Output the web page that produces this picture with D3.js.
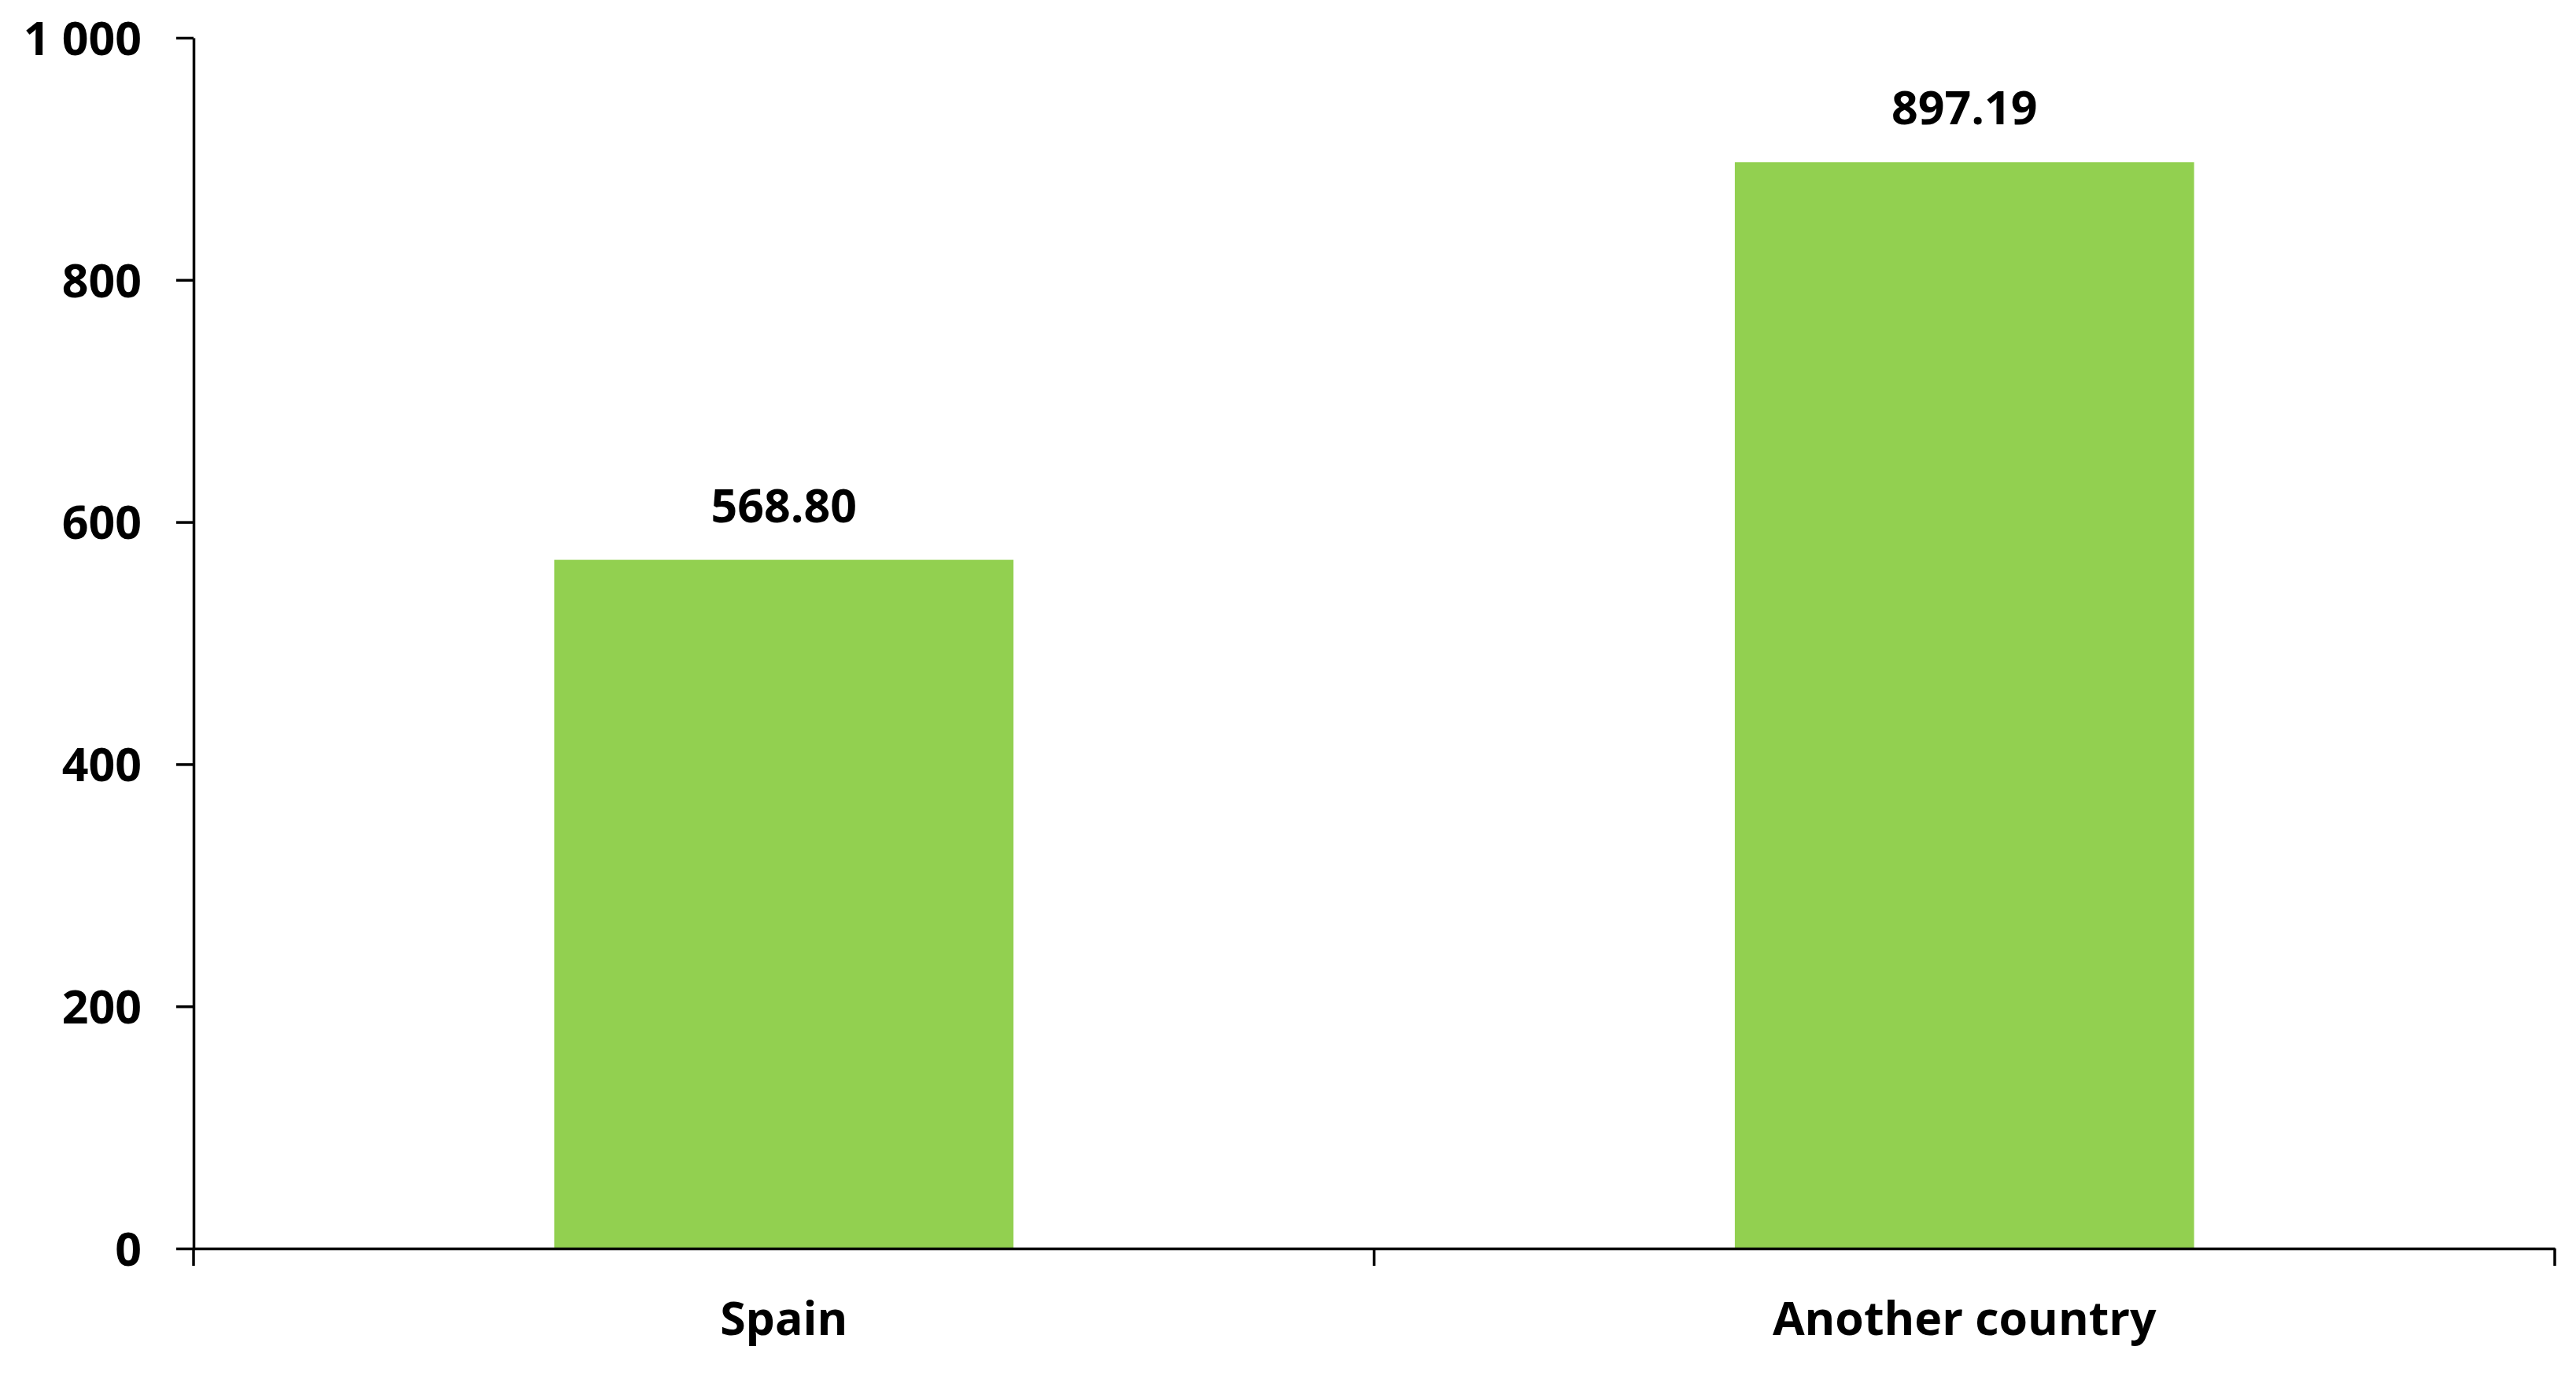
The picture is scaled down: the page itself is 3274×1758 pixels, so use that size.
<!DOCTYPE html>
<html>
<head lang="en">
    <meta charset="UTF-8">
    <script type="text/javascript" src="https://d3js.org/d3.v7.min.js"></script>
    <style>
        body { margin: 0; background: #fff; }
        text { font-family: "Open Sans", sans-serif; font-weight: 700; fill: #000; }
    </style>
</head>
<body>
    <svg id="chart" width="3274" height="1758"></svg>
    <script>
        // data
        var categories = ["Spain", "Another country"];
        var values = [568.80, 897.19];
        var yTicks = [0, 200, 400, 600, 800, 1000];

        var svg = d3.select("#chart");
        // note: "top" is a reserved window property, so use plot* names
        var plotLeft = 246, plotRight = 3247, plotTop = 48, plotBottom = 1587;
        var fontSize = 59;

        var xScale = d3.scaleBand().domain(categories).range([plotLeft, plotRight]).padding(0);
        var yScale = d3.scaleLinear().domain([0, 1000]).range([plotBottom, plotTop]);
        var barWidth = xScale.bandwidth() * 0.389;

        // bars
        svg.append("g")
            .selectAll("rect")
            .data(values)
            .enter()
            .append("rect")
                .attr("x", function(d, i){ return xScale(categories[i]) + xScale.bandwidth() / 2 - barWidth / 2; })
                .attr("y", function(d){ return yScale(d); })
                .attr("width", barWidth)
                .attr("height", function(d){ return plotBottom - yScale(d); })
                .attr("fill", "#92D050");

        // value labels
        svg.append("g")
            .selectAll("text")
            .data(values)
            .enter()
            .append("text")
                .attr("x", function(d, i){ return xScale(categories[i]) + xScale.bandwidth() / 2; })
                .attr("y", function(d){ return yScale(d) - 48; })
                .attr("text-anchor", "middle")
                .style("font-size", fontSize + "px")
                .text(function(d){ return d.toFixed(2); });

        // y axis
        var yAxis = svg.append("g")
            .attr("transform", "translate(" + plotLeft + ",0)")
            .call(d3.axisLeft(yScale)
                .tickValues(yTicks)
                .tickSize(22)
                .tickSizeOuter(0)
                .tickPadding(44)
                .tickFormat(function(d){ return d3.format(",")(d).replace(",", " "); }));
        yAxis.select(".domain").attr("stroke", "#000").attr("stroke-width", 3.5);
        yAxis.selectAll(".tick line").attr("stroke", "#000").attr("stroke-width", 3.5);
        yAxis.selectAll(".tick text")
            .attr("font-family", null).attr("font-size", null)
            .style("font-size", fontSize + "px")
            .attr("dy", "0.36em");

        // x axis (labels in band centres, ticks at band edges)
        var xAxis = svg.append("g")
            .attr("transform", "translate(0," + plotBottom + ")")
            .call(d3.axisBottom(xScale).tickSize(0).tickPadding(0).tickSizeOuter(0));
        xAxis.select(".domain").attr("stroke", "#000").attr("stroke-width", 3.5);
        xAxis.selectAll(".tick text")
            .attr("font-family", null).attr("font-size", null)
            .attr("dy", null)
            .attr("y", 110)
            .style("font-size", fontSize + "px");

        var edges = categories.map(function(c){ return xScale(c); }).concat([plotRight]);
        xAxis.selectAll("line.edge")
            .data(edges)
            .enter()
            .append("line")
                .attr("class", "edge")
                .attr("x1", function(d){ return d; })
                .attr("x2", function(d){ return d; })
                .attr("y1", 0)
                .attr("y2", 22)
                .attr("stroke", "#000")
                .attr("stroke-width", 3.5);
    </script>
</body>
</html>
